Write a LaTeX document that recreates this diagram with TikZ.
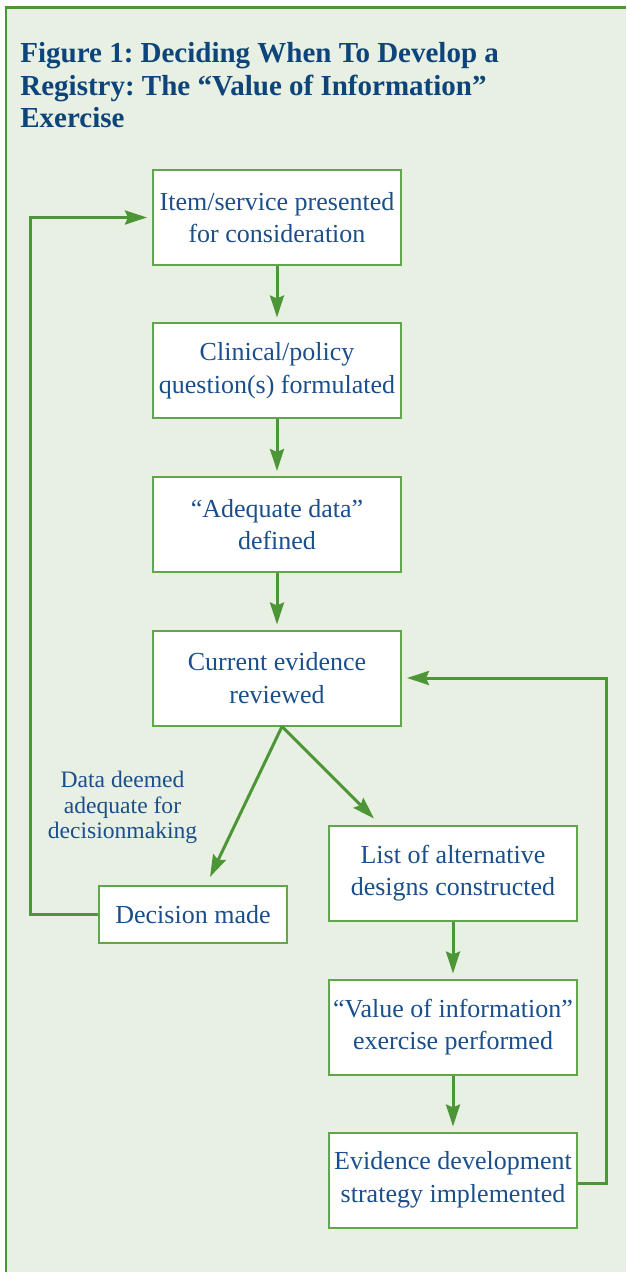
\documentclass[tikz,border=0pt]{standalone}
\usepackage{fontspec}
\setmainfont{Liberation Serif}
\usetikzlibrary{arrows.meta}
\frenchspacing
\definecolor{panelgreen}{HTML}{E8F0E3}
\definecolor{linegreen}{HTML}{4C9637}
\definecolor{boxgreen}{HTML}{62A64B}
\definecolor{textblue}{HTML}{1B4F8C}
\definecolor{titleblue}{HTML}{0D4479}
\tikzset{
  stepbox/.style={draw=boxgreen,line width=1pt,fill=white,text=textblue,
    minimum width=124pt,minimum height=47.5pt,inner sep=0pt,align=center,
    font=\fontsize{13}{16.3}\selectfont},
  flow/.style={draw=linegreen,line width=1.5pt,->,shorten >=2.5pt}
}
\begin{document}
\begin{tikzpicture}[x=0.5pt,y=-0.5pt,>={Stealth[length=11pt,width=7pt,inset=1.5pt]}]
\useasboundingbox (0,0) rectangle (626,1272);
\fill[panelgreen] (5,7) rectangle (626,1272);
\draw[linegreen,line width=1.25pt] (6,1272)--(6,7.5)--(626,7.5);

\node[anchor=north west,inner sep=0pt,align=left,text=titleblue,
  font=\bfseries\fontsize{14.5}{16.25}\selectfont] (title) at (20,42)
  {Figure 1: Deciding When To Develop a\\Registry: The “Value of Information”\\Exercise};

\node[stepbox] (item) at (277,217.5) {Item/service presented\\for consideration};
\node[stepbox] (question) at (277,371) {Clinical/policy\\question(s) formulated};
\node[stepbox] (adequate) at (277,524.5) {“Adequate data”\\defined};
\node[stepbox] (review) at (277,678) {Current evidence\\reviewed};
\node[stepbox,minimum width=94pt,minimum height=28.5pt] (decision) at (193,914.5) {Decision made};
\node[stepbox] (designs) at (453,873) {List of alternative\\designs constructed};
\node[stepbox] (voi) at (453,1027) {“Value of information”\\exercise performed};
\node[stepbox] (strategy) at (453,1180) {Evidence development\\strategy implemented};

\node[anchor=north,inner sep=0pt,align=center,text=textblue,
  font=\fontsize{11.8}{12.8}\selectfont] (deemed) at (122.5,771)
  {Data deemed\\adequate for\\decisionmaking};

\draw[flow] (item) -- (question);
\draw[flow] (question) -- (adequate);
\draw[flow] (adequate) -- (review);
\draw[flow,shorten >=0pt] ([xshift=2.5pt]review.south) -- ([xshift=8.5pt,yshift=4pt]decision.north);
\draw[flow,shorten >=0pt] ([xshift=2.5pt]review.south) -- ([xshift=23pt,yshift=3pt]designs.north west);
\draw[flow] (designs) -- (voi);
\draw[flow] (voi) -- (strategy);

\draw[flow] (decision.west) -- ++(-68,0) |- (item.west);
\draw[flow] ([yshift=-1.5pt]strategy.east) -- ++(28,0) |- (review.east);
\end{tikzpicture}
\end{document}
